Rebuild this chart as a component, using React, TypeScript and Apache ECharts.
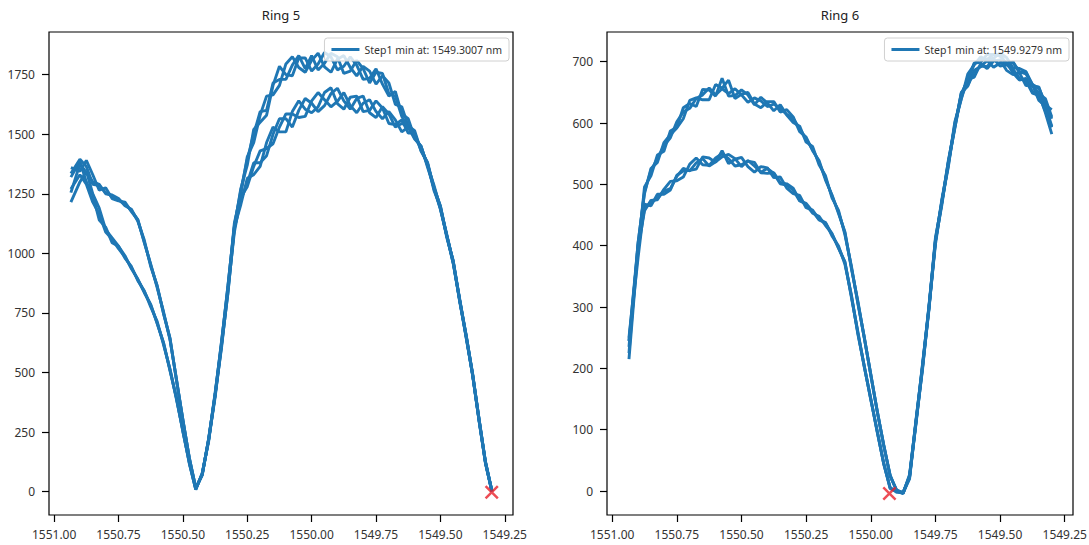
import React, { useEffect, useRef } from "react";
import * as echarts from "echarts";

// Wavelength samples (nm), shared by every sweep
const WAVELENGTH = [
  1550.935, 1550.9, 1550.875, 1550.85, 1550.825, 1550.8, 1550.775, 1550.75, 1550.725, 1550.7,
  1550.675, 1550.65, 1550.625, 1550.6, 1550.575, 1550.55, 1550.525, 1550.5, 1550.475, 1550.45,
  1550.425, 1550.4, 1550.375, 1550.35, 1550.325, 1550.3, 1550.275, 1550.25, 1550.225, 1550.2,
  1550.175, 1550.15, 1550.125, 1550.1, 1550.075, 1550.05, 1550.025, 1550.0, 1549.975, 1549.95,
  1549.925, 1549.9, 1549.875, 1549.85, 1549.825, 1549.8, 1549.775, 1549.75, 1549.725, 1549.7,
  1549.675, 1549.65, 1549.625, 1549.6, 1549.575, 1549.55, 1549.525, 1549.5, 1549.475, 1549.45,
  1549.425, 1549.4, 1549.375, 1549.35, 1549.325, 1549.3,
];

// Ring 5 sweeps
const RING5_SWEEP_1 = [
  1215, 1300, 1345, 1250, 1190, 1100, 1065, 1030, 990, 935, 892,
  835, 786, 706, 625, 507, 394, 252, 122, 8, 78, 211, 405, 604, 848, 1090, 1235,
  1280, 1365, 1430, 1440, 1460, 1530, 1585, 1585, 1570, 1575, 1640, 1675, 1645, 1615, 1638, 1675, 1620, 1590,
  1630, 1645, 1595, 1565, 1595, 1560, 1510, 1530, 1480,
  1450, 1362, 1276, 1185, 1075, 956, 803, 647, 492, 298, 121, 0,
];
const RING5_SWEEP_2 = [
  1320, 1385, 1300, 1245, 1140, 1110, 1045, 1030, 980, 945, 885,
  843, 775, 715, 616, 514, 387, 258, 118, 11, 72, 219, 395, 616, 833, 1110, 1205,
  1315, 1330, 1365, 1465, 1530, 1510, 1510, 1595, 1640, 1605, 1590, 1615, 1675, 1695, 1628, 1605, 1655, 1660,
  1595, 1600, 1640, 1610, 1545, 1540, 1560, 1505, 1505,
  1430, 1378, 1264, 1195, 1066, 965, 797, 653, 488, 302, 119, 2,
];
const RING5_SWEEP_3 = [
  1270, 1330, 1290, 1215, 1165, 1090, 1060, 1020, 985, 940, 890,
  840, 783, 708, 622, 511, 392, 254, 121, 9, 76, 217, 403, 612, 837, 1104, 1225,
  1295, 1380, 1380, 1410, 1500, 1565, 1565, 1530, 1600, 1650, 1630, 1595, 1620, 1670, 1693, 1640, 1605, 1650,
  1660, 1590, 1570, 1615, 1585, 1530, 1545, 1540, 1485,
  1445, 1373, 1272, 1188, 1072, 958, 802, 648, 491, 299, 122, 1,
];
const RING5_SWEEP_4 = [
  1255, 1375, 1340, 1300, 1290, 1250, 1245, 1230, 1200, 1185, 1135,
  1056, 945, 865, 746, 644, 467, 303, 138, 16, 68, 223, 406, 630, 854, 1128, 1248,
  1405, 1465, 1580, 1660, 1665, 1705, 1795, 1825, 1780, 1760, 1810, 1840, 1783, 1760, 1815, 1830, 1780, 1745,
  1785, 1765, 1710, 1745, 1715, 1625, 1615, 1535, 1515,
  1430, 1383, 1274, 1200, 1071, 968, 802, 657, 493, 306, 124, 3,
];
const RING5_SWEEP_5 = [
  1360, 1345, 1390, 1330, 1265, 1275, 1230, 1220, 1215, 1175, 1140,
  1045, 955, 856, 754, 637, 473, 298, 142, 14, 72, 217, 414, 620, 866, 1112, 1272,
  1370, 1520, 1550, 1580, 1705, 1785, 1750, 1745, 1820, 1820, 1765, 1795, 1843, 1825, 1770, 1785, 1825, 1790,
  1730, 1735, 1775, 1710, 1660, 1680, 1585, 1565, 1485,
  1450, 1367, 1286, 1190, 1079, 962, 808, 653, 497, 304, 126, 4,
];
const RING5_SWEEP_6 = [
  1335, 1395, 1365, 1290, 1285, 1255, 1240, 1225, 1205, 1180, 1142,
  1048, 952, 862, 748, 641, 469, 301, 141, 15, 71, 221, 408, 627, 863, 1116, 1265,
  1395, 1500, 1595, 1600, 1715, 1730, 1730, 1790, 1830, 1775, 1830, 1770, 1798, 1840, 1825, 1755, 1765, 1810,
  1775, 1715, 1760, 1755, 1670, 1660, 1575, 1525, 1500,
  1437, 1377, 1278, 1197, 1074, 966, 804, 656, 494, 306, 125, 2,
];

// Ring 6 sweeps
const RING6_SWEEP_1 = [
  215, 395, 457,
  474, 475, 492, 505, 506, 512, 533, 543, 532, 531, 543, 550, 542, 530, 532, 538, 536, 519, 518, 519, 503, 501, 494, 474, 467, 453, 448, 433,
  420, 396, 374, 316, 260, 202, 151, 96, 46, 4, 0, -4, 27, 113, 207, 298, 413, 470, 539,
  594, 650, 660, 686, 692, 702, 691, 698, 698, 682, 670, 673, 651, 648, 617, 582,
];
const RING6_SWEEP_2 = [
  245, 380, 468,
  465, 484, 484, 491, 515, 522, 523, 525, 545, 543, 536, 555, 534, 541, 544, 529, 520, 529, 527, 511, 512, 494, 485, 482, 462, 458, 443, 438,
  416, 400, 370, 320, 256, 204, 149, 98, 44, 6, -2, -2, 23, 117, 203, 302, 407, 476, 531,
  602, 640, 671, 675, 697, 689, 701, 703, 686, 679, 682, 661, 662, 637, 628, 595,
];
const RING6_SWEEP_3 = [
  235, 400, 460,
  471, 477, 489, 493, 513, 526, 522, 535, 542, 530, 537, 545, 549, 542, 529, 539, 530, 520, 526, 518, 501, 499, 491, 473, 469, 456, 442, 437,
  419, 397, 373, 318, 258, 203, 150, 97, 45, 5, -1, -3, 25, 115, 205, 301, 410, 473, 537,
  596, 648, 662, 684, 693, 692, 705, 693, 695, 688, 673, 669, 649, 645, 620, 593,
];
const RING6_SWEEP_4 = [
  225, 405, 485,
  526, 536, 568, 581, 592, 607, 637, 641, 638, 638, 663, 657, 670, 640, 647, 650, 631, 625, 635, 635, 618, 622, 610, 586, 577, 555, 539, 507,
  483, 453, 423, 363, 310, 249, 191, 129, 76, 24, 2, -4, 24, 110, 202, 296, 408, 467, 536,
  591, 648, 670, 698, 699, 712, 712, 712, 695, 700, 682, 683, 660, 659, 629, 622,
];
const RING6_SWEEP_5 = [
  250, 392, 496,
  514, 548, 554, 587, 593, 625, 632, 627, 655, 654, 644, 673, 644, 645, 654, 646, 630, 642, 633, 620, 630, 613, 601, 595, 569, 562, 532, 514,
  478, 458, 418, 367, 306, 251, 189, 131, 74, 26, 0, -3, 20, 114, 198, 300, 402, 473, 529,
  599, 639, 680, 695, 708, 702, 706, 714, 707, 690, 689, 684, 663, 648, 640, 610,
];
const RING6_SWEEP_6 = [
  245, 403, 488,
  523, 542, 563, 576, 602, 618, 624, 640, 646, 657, 646, 656, 648, 656, 646, 634, 641, 636, 627, 631, 624, 614, 607, 591, 574, 557, 536, 510,
  481, 455, 421, 365, 308, 250, 190, 130, 75, 25, 1, -2, 22, 112, 200, 298, 406, 470, 534,
  593, 645, 672, 696, 705, 704, 712, 709, 698, 699, 684, 680, 663, 657, 633, 607,
];

// Located minima (wavelength nm, intensity)
const RING5_MIN = [1549.3007, -3];
const RING6_MIN = [1549.9279, -4];

// Axis tick labels
const X_TICKS = [1551.0, 1550.75, 1550.5, 1550.25, 1550.0, 1549.75, 1549.5, 1549.25];
const RING5_Y_TICKS = [0, 250, 500, 750, 1000, 1250, 1500, 1750];
const RING6_Y_TICKS = [0, 100, 200, 300, 400, 500, 600, 700];

const TITLES = ["Ring 5", "Ring 6"];
const LEGEND_NAMES = ["Step1 min at: 1549.3007 nm", "Step1 min at: 1549.9279 nm"];

const RING5_SWEEPS = [RING5_SWEEP_1, RING5_SWEEP_2, RING5_SWEEP_3, RING5_SWEEP_4, RING5_SWEEP_5, RING5_SWEEP_6];
const RING6_SWEEPS = [RING6_SWEEP_1, RING6_SWEEP_2, RING6_SWEEP_3, RING6_SWEEP_4, RING6_SWEEP_5, RING6_SWEEP_6];

const BLUE = "#1f77b4";
const FONT = "'Noto Sans', 'DejaVu Sans', sans-serif";
const X_PATH =
  "path://M0,2.5 L2.5,0 L10,7.5 L17.5,0 L20,2.5 L12.5,10 L20,17.5 L17.5,20 L10,12.5 L2.5,20 L0,17.5 L7.5,10 Z";

function pairs(ys: number[]) {
  return WAVELENGTH.map((w, i) => [w, ys[i]]);
}

function xAxisFor(gridIndex: number) {
  return {
    type: "value",
    gridIndex,
    inverse: true,
    min: 1549.218,
    max: 1551.02,
    axisLine: { show: false, onZero: false },
    splitLine: { show: false },
    axisTick: { show: true, length: 7, customValues: X_TICKS, lineStyle: { color: "#000", width: 1.2 } },
    axisLabel: {
      customValues: X_TICKS,
      formatter: (v: number) => v.toFixed(2),
      color: "#333",
      fontSize: 12,
      fontFamily: FONT,
      margin: 13,
    },
  };
}

function yAxisFor(gridIndex: number, min: number, max: number, ticks: number[]) {
  return {
    type: "value",
    gridIndex,
    min,
    max,
    axisLine: { show: false, onZero: false },
    splitLine: { show: false },
    axisTick: { show: true, length: 7, customValues: ticks, lineStyle: { color: "#000", width: 1.2 } },
    axisLabel: {
      customValues: ticks,
      formatter: (v: number) => String(v),
      color: "#333",
      fontSize: 12,
      fontFamily: FONT,
      margin: 14,
    },
  };
}

function legendFor(name: string, right: number) {
  return {
    data: [name],
    right,
    top: 38,
    orient: "horizontal",
    icon: "rect",
    backgroundColor: "rgba(255,255,255,0.8)",
    borderColor: "#d0d0d0",
    borderWidth: 1,
    borderRadius: 3,
    padding: [6, 7, 6, 7],
    itemWidth: 28,
    itemHeight: 3,
    itemGap: 6,
    selectedMode: false,
    textStyle: { fontSize: 10.5, color: "#333", fontFamily: FONT },
  };
}

function gridFor(left: number, right: number) {
  return {
    left,
    right,
    top: 32,
    bottom: 30,
    containLabel: false,
    outerBoundsMode: "none",
    show: true,
    borderColor: "#000",
    borderWidth: 1.2,
    backgroundColor: "transparent",
  };
}

export default function App() {
  const ref = useRef<HTMLDivElement>(null);

  useEffect(() => {
    if (!ref.current) return;
    const chart = echarts.init(ref.current, undefined, { renderer: "svg" });

    const lineSeries = (sweeps: number[][], name: string, axisIndex: number) =>
      sweeps.map((ys) => ({
        type: "line",
        name,
        xAxisIndex: axisIndex,
        yAxisIndex: axisIndex,
        data: pairs(ys),
        showSymbol: false,
        symbol: "none",
        lineStyle: { color: BLUE, width: 2.9 },
        itemStyle: { color: BLUE },
        z: 2,
      }));

    const option = {
      animation: false,
      backgroundColor: "#fff",
      grid: [gridFor(49, 576), gridFor(607, 16)],
      xAxis: [xAxisFor(0), xAxisFor(1)],
      yAxis: [yAxisFor(0, -98, 1929, RING5_Y_TICKS), yAxisFor(1, -39, 748.5, RING6_Y_TICKS)],
      legend: [legendFor(LEGEND_NAMES[0], 580), legendFor(LEGEND_NAMES[1], 20)],
      graphic: [
        { type: "text", x: 281, y: 8, style: { text: TITLES[0], align: "center", verticalAlign: "top", fontSize: 13, fontFamily: FONT, fill: "#222" } },
        { type: "text", x: 840, y: 8, style: { text: TITLES[1], align: "center", verticalAlign: "top", fontSize: 13, fontFamily: FONT, fill: "#222" } },
      ],
      series: [
        ...lineSeries(RING5_SWEEPS, LEGEND_NAMES[0], 0),
        ...lineSeries(RING6_SWEEPS, LEGEND_NAMES[1], 1),
        {
          type: "scatter",
          name: "min5",
          xAxisIndex: 0,
          yAxisIndex: 0,
          data: [RING5_MIN],
          symbol: X_PATH,
          symbolSize: 14,
          itemStyle: { color: "#e8202a" },
          z: 5,
        },
        {
          type: "scatter",
          name: "min6",
          xAxisIndex: 1,
          yAxisIndex: 1,
          data: [RING6_MIN],
          symbol: X_PATH,
          symbolSize: 14,
          itemStyle: { color: "#e8202a" },
          z: 5,
        },
      ],
    };

    chart.setOption(option as any);
    return () => chart.dispose();
  }, []);

  return (
    <div
      ref={ref}
      style={{ position: "fixed", left: 0, top: 0, width: 1089, height: 545, background: "#fff" }}
    />
  );
}
